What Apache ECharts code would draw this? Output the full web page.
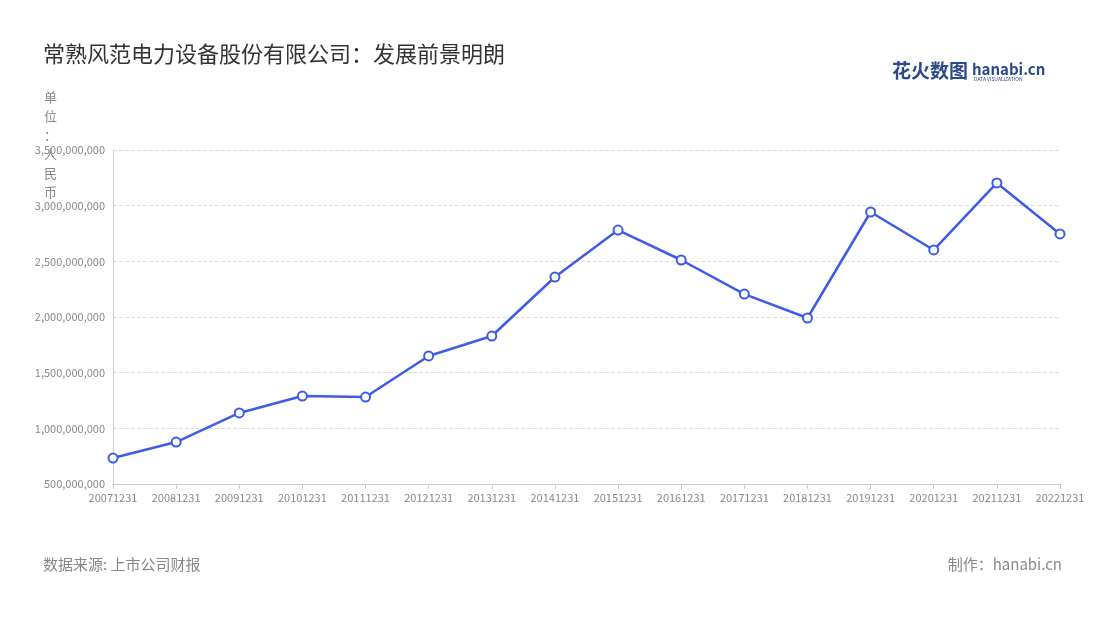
<!DOCTYPE html>
<html><head><meta charset="utf-8">
<script src="https://cdn.jsdelivr.net/npm/echarts@6/dist/echarts.min.js"></script>
<style>html,body{margin:0;padding:0;background:#fff}#c{width:1100px;height:620px}</style>
</head><body><div id="c"></div>
<script>
const categories=['20071231','20081231','20091231','20101231','20111231','20121231','20131231','20141231','20151231','20161231','20171231','20181231','20191231','20201231','20211231','20221231'];
const values=[733e6,877e6,1138e6,1290e6,1281e6,1650e6,1829e6,2359e6,2781e6,2512e6,2206e6,1991e6,2943e6,2602e6,3204e6,2746e6];
const title='常熟风范电力设备股份有限公司：发展前景明朗';
const unit='单\n位\n：\n人\n民\n币';
const source='数据来源: 上市公司财报';
const maker='制作：hanabi.cn';
const ff='"Noto Sans CJK SC","Noto Sans",sans-serif';
const chart=echarts.init(document.getElementById('c'));
chart.setOption({
  textStyle:{fontFamily:ff},
  title:{text:title,left:38,top:38,textStyle:{fontSize:22,fontWeight:'normal',color:'#333',fontFamily:ff}},
  graphic:[
    {type:'text',left:44,top:88,style:{text:unit,fontSize:13,lineHeight:19,fill:'#888',fontFamily:ff}},
    {type:'text',left:43,top:557,style:{text:source,fontSize:15,fill:'#888',fontFamily:ff}},
    {type:'text',right:38,top:557,style:{text:maker,fontSize:15,fill:'#888',fontFamily:ff}},
    {type:'text',left:892,top:61,style:{text:'花火数图',fontSize:19,fontWeight:'bold',fill:'#2a4a8a',fontFamily:ff}},
    {type:'text',left:972,top:62,style:{text:'hanabi.cn',fontSize:15,fontWeight:'bold',fill:'#2a4a8a',fontFamily:ff}},
    {type:'text',left:974,top:77,style:{text:'DATA VISUALIZATION',fontSize:5,fill:'#2a4a8a',fontFamily:ff}}
  ],
  grid:{left:113,right:40,top:150,bottom:136},
  xAxis:{type:'category',data:categories,boundaryGap:false,
    axisLine:{lineStyle:{color:'#ccc'}},axisTick:{show:true,lineStyle:{color:'#ccc'}},
    axisLabel:{color:'#888',fontSize:11,interval:0}},
  yAxis:{type:'value',min:500000000,max:3500000000,interval:500000000,
    axisLine:{show:true,lineStyle:{color:'#ccc'}},
    splitLine:{lineStyle:{type:'dashed',color:'#ddd'}},
    axisLabel:{color:'#888',fontSize:11,formatter:v=>v.toLocaleString('en-US')}},
  series:[{type:'line',data:values,symbol:'circle',symbolSize:9,
    lineStyle:{color:'#3d5be8',width:2.5},
    itemStyle:{color:'#fff',borderColor:'#3d5be8',borderWidth:2}}]
});
</script></body></html>
